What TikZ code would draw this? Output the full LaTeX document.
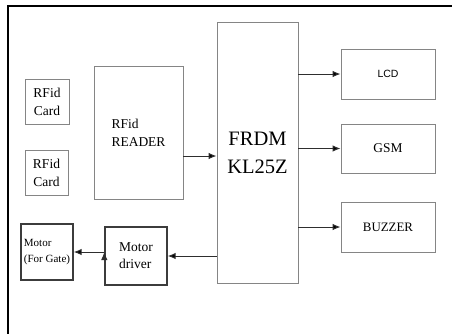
\documentclass[tikz,border=0pt]{standalone}
\usepackage{fontspec}
\setmainfont{Liberation Serif}
\newfontfamily\lcdfont{Liberation Sans}
\usepackage{tikz}
\usetikzlibrary{arrows.meta,calc,positioning}
\usepackage{xcolor}
\definecolor{boxgray}{HTML}{858585}
\definecolor{darkbox}{HTML}{3C3C3C}
\definecolor{arrgray}{HTML}{2E2E2E}
\tikzset{
blk/.style={draw=boxgray,line width=0.9pt,inner sep=0pt},
darkblk/.style={draw=darkbox,line width=1.4pt,inner sep=0pt,align=left},
arr/.style={-{Latex[length=8pt,width=6.5pt]},draw=arrgray,line width=1pt}
}
\begin{document}
\begin{tikzpicture}[x=1pt,y=-1pt]
\useasboundingbox (0,0) rectangle (452,333);
\draw[line width=2.6pt] (8,334) -- (8,6) -- (453,6);
\node[blk,minimum width=44,minimum height=45,font=\fontsize{13.5}{18}\selectfont,align=center] (card1) at (47,101.5) {RFid\\Card};
\node[blk,minimum width=43,minimum height=45,font=\fontsize{13.5}{18}\selectfont,align=center] (card2) at (46.5,172.5) {RFid\\Card};
\node[blk,minimum width=89,minimum height=133,font=\fontsize{13.5}{18}\selectfont,align=left] (reader) at (138.5,132.5) {RFid\\READER};
\node[blk,minimum width=81,minimum height=261,font=\fontsize{20.5}{28}\selectfont,align=center] (frdm) at (257.5,152.5) {FRDM\\KL25Z};
\node[blk,minimum width=94,minimum height=50,font=\lcdfont\fontsize{10.5}{12}\selectfont] (lcd) at (388,74) {LCD};
\node[blk,minimum width=94,minimum height=49,font=\fontsize{13.4}{16}\selectfont] (gsm) at (388,148.5) {GSM};
\node[blk,minimum width=94,minimum height=50,font=\fontsize{12.9}{16}\selectfont] (buzzer) at (388,227) {BUZZER};
\node[darkblk,minimum width=62,minimum height=58,font=\fontsize{13.5}{17}\selectfont] (driver) at (136,256) {Motor\\driver};
\node[darkblk,minimum width=52,minimum height=56,font=\fontsize{11}{16}\selectfont] (motor) at (47,252) {Motor\\(For Gate)};
\path[arr]
([yshift=-3.5]reader.east |- frdm.west) edge ([yshift=-3.5]frdm.west)
(frdm.east |- lcd.west) edge (lcd.west)
(frdm.east |- gsm.west) edge (gsm.west)
(frdm.east |- buzzer.west) edge (buzzer.west)
(frdm.west |- driver.east) edge (driver.east)
(driver.west |- motor.east) edge (motor.east);
\end{tikzpicture}
\end{document}
